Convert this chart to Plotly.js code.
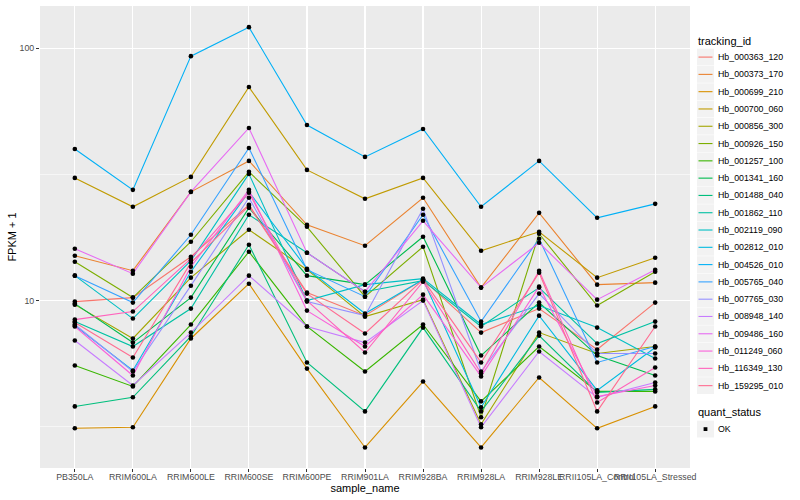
<!DOCTYPE html>
<html>
<head>
<meta charset="utf-8">
<script src="https://cdn.plot.ly/plotly-3.0.1.min.js"></script>
<style>html,body{margin:0;padding:0;background:#fff;}#chart{width:800px;height:500px;}</style>
</head>
<body>
<div id="chart"></div>
<script>
const samples = ["PB350LA","RRIM600LA","RRIM600LE","RRIM600SE","RRIM600PE","RRIM901LA","RRIM928BA","RRIM928LA","RRIM928LE","RRII105LA_Control","RRII105LA_Stressed"];
const trackingIds = ["Hb_000363_120","Hb_000373_170","Hb_000699_210","Hb_000700_060","Hb_000856_300","Hb_000926_150","Hb_001257_100","Hb_001341_160","Hb_001488_040","Hb_001862_110","Hb_002119_090","Hb_002812_010","Hb_004526_010","Hb_005765_040","Hb_007765_030","Hb_008948_140","Hb_009486_160","Hb_011249_060","Hb_116349_130","Hb_159295_010"];
const colors = ["#F8766D","#EA8331","#D89000","#C09B00","#A3A500","#7CAE00","#39B600","#00BB4E","#00BF7D","#00C1A3","#00BFC4","#00BAE0","#00B0F6","#35A2FF","#9590FF","#C77CFF","#E76BF3","#FA62DB","#FF62BC","#FF6C91"];
const quantStatus = ["OK"];

// FPKM + 1 values, one array per tracking_id (order = samples)
const hb000363_120 = [9.91, 10.28, 14.92, 23.95, 10.76, 8.72, 12.11, 7.47, 9.30, 6.40, 9.82];
const hb000373_170 = [15.06, 13.14, 26.97, 35.76, 19.97, 16.50, 25.54, 11.26, 22.27, 11.57, 11.78];
const hb000699_210 = [3.12, 3.15, 7.08, 11.67, 5.38, 2.62, 4.78, 2.62, 4.96, 3.12, 3.81];
const hb000700_060 = [30.63, 23.53, 30.91, 70.13, 32.95, 25.31, 30.63, 15.76, 18.74, 12.33, 14.79];
const hb000856_300 = [9.64, 7.08, 12.33, 19.08, 13.26, 8.64, 10.09, 3.24, 7.47, 6.17, 6.58];
const hb000926_150 = [14.26, 10.28, 17.11, 32.36, 19.61, 10.37, 16.35, 3.45, 18.40, 9.56, 13.02];
const hb001257_100 = [5.53, 4.57, 8.04, 15.62, 7.90, 5.24, 8.04, 3.99, 6.58, 4.37, 4.37];
const hb001341_160 = [9.73, 6.82, 10.28, 23.31, 12.56, 11.57, 17.91, 6.06, 9.82, 6.06, 5.05];
const hb001488_040 = [3.81, 4.14, 7.21, 16.65, 5.69, 3.64, 7.82, 3.64, 7.27, 4.33, 4.45];
const hb001862_110 = [8.26, 6.58, 9.30, 21.88, 15.48, 10.85, 12.00, 7.90, 11.26, 6.76, 8.26];
const hb002119_090 = [12.56, 8.49, 14.39, 31.77, 10.00, 11.57, 12.22, 8.04, 9.56, 7.82, 5.90];
const hb002812_010 = [7.96, 5.29, 13.02, 26.97, 13.38, 8.89, 12.11, 3.78, 8.72, 4.41, 6.52];
const hb004526_010 = [39.89, 27.46, 92.98, 121.1, 49.62, 37.09, 47.84, 23.53, 35.76, 21.29, 24.17];
const hb005765_040 = [12.56, 9.82, 18.23, 40.25, 13.26, 10.37, 21.88, 8.26, 17.58, 5.69, 6.58];
const hb007765_030 = [8.04, 5.24, 11.46, 25.54, 9.91, 8.72, 23.10, 5.24, 10.66, 6.17, 6.17];
const hb008948_140 = [6.95, 4.61, 7.47, 12.56, 7.90, 6.82, 10.00, 3.15, 6.29, 4.14, 4.74];
const hb009486_160 = [16.05, 12.79, 26.97, 48.28, 15.48, 10.85, 20.71, 11.26, 16.95, 10.09, 13.26];
const hb011249_060 = [7.90, 5.05, 13.62, 27.46, 9.13, 6.58, 10.56, 5.01, 11.36, 4.17, 4.61];
const hb116349_130 = [8.41, 9.05, 14.66, 26.73, 10.00, 6.23, 11.89, 5.15, 13.14, 3.95, 5.43];
const hb159295_010 = [8.19, 5.95, 14.13, 23.74, 10.66, 7.41, 12.11, 5.69, 12.90, 3.64, 7.90];

const series = [hb000363_120, hb000373_170, hb000699_210, hb000700_060, hb000856_300, hb000926_150, hb001257_100, hb001341_160, hb001488_040, hb001862_110, hb002119_090, hb002812_010, hb004526_010, hb005765_040, hb007765_030, hb008948_140, hb009486_160, hb011249_060, hb116349_130, hb159295_010];

const yTickVals = [10, 100];
const yMinorVals = [3.1623, 31.623];

const font = "Liberation Sans, Arial, sans-serif";
const W = 800, H = 500;
const M = {l: 40, r: 110, t: 5.5, b: 31.5};
const PW = W - M.l - M.r, PH = H - M.t - M.b;
const px2x = px => (px - M.l) / PW;
const py2y = py => (H - M.b - py) / PH;

const traces = [];
series.forEach((vals, i) => {
  traces.push({
    type: "scatter", mode: "lines", x: samples, y: vals,
    name: trackingIds[i], showlegend: false,
    line: {color: colors[i], width: 1.1},
    hoverinfo: "skip"
  });
});
series.forEach((vals, i) => {
  traces.push({
    type: "scatter", mode: "markers", x: samples, y: vals,
    showlegend: false,
    marker: {color: "#000", size: 4.6, symbol: "circle"},
    hoverinfo: "skip"
  });
});

// Hand-built ggplot-style legend (keys + real text labels)
const shapes = [];
const annotations = [];
const keyL = 697, keyR = 714, step = 17.33, firstY = 56.7;
annotations.push({xref: "paper", yref: "paper", x: px2x(696), y: py2y(40.5), xanchor: "left", yanchor: "middle",
  text: "tracking_id", showarrow: false, font: {family: font, size: 11, color: "#000"}});
trackingIds.forEach((id, i) => {
  const cy = firstY + i * step;
  shapes.push({type: "rect", xref: "paper", yref: "paper", x0: px2x(keyL), x1: px2x(keyR), y0: py2y(cy - 8.4), y1: py2y(cy + 8.4),
    fillcolor: "#F2F2F2", line: {width: 0}, layer: "above"});
  shapes.push({type: "line", xref: "paper", yref: "paper", x0: px2x(keyL + 1.5), x1: px2x(keyR - 1.5), y0: py2y(cy), y1: py2y(cy),
    line: {color: colors[i], width: 1.1}, layer: "above"});
  annotations.push({xref: "paper", yref: "paper", x: px2x(716.5), y: py2y(cy), xanchor: "left", yanchor: "middle",
    text: id, showarrow: false, font: {family: font, size: 8.8, color: "#000"}});
});
annotations.push({xref: "paper", yref: "paper", x: px2x(696), y: py2y(412.5), xanchor: "left", yanchor: "middle",
  text: "quant_status", showarrow: false, font: {family: font, size: 11, color: "#000"}});
quantStatus.forEach((q, i) => {
  const cy = 429.5 + i * step;
  shapes.push({type: "rect", xref: "paper", yref: "paper", x0: px2x(keyL), x1: px2x(keyR), y0: py2y(cy - 8.4), y1: py2y(cy + 8.4),
    fillcolor: "#F2F2F2", line: {width: 0}, layer: "above"});
  shapes.push({type: "rect", xref: "paper", yref: "paper", x0: px2x(703.6), x1: px2x(707.4), y0: py2y(cy - 1.9), y1: py2y(cy + 1.9),
    fillcolor: "#000", line: {width: 0}, layer: "above"});
  annotations.push({xref: "paper", yref: "paper", x: px2x(716.5), y: py2y(cy), xanchor: "left", yanchor: "middle",
    text: q, showarrow: false, font: {family: font, size: 8.8, color: "#000"}});
});

const layout = {
  width: W, height: H,
  paper_bgcolor: "#FFFFFF", plot_bgcolor: "#EBEBEB",
  margin: M,
  font: {family: font, size: 9, color: "#000"},
  showlegend: false,
  xaxis: {
    type: "category", range: [-0.6, 10.6], categoryorder: "array", categoryarray: samples,
    showgrid: true, gridcolor: "#FFFFFF", gridwidth: 1.1,
    zeroline: false, showline: false,
    ticks: "outside", ticklen: 3, tickcolor: "#333333", tickwidth: 1,
    ticklabelstandoff: -3,
    tickfont: {family: font, size: 8.8, color: "#4D4D4D"}, tickangle: 0,
    title: {text: "sample_name", font: {family: font, size: 11, color: "#000"}, standoff: 0}
  },
  yaxis: {
    type: "log", range: [0.337, 2.167],
    tickvals: yTickVals, ticktext: yTickVals.map(String),
    showgrid: true, gridcolor: "#FFFFFF", gridwidth: 1.1,
    minor: {tickvals: yMinorVals, showgrid: true, gridcolor: "#FFFFFF", gridwidth: 0.55, ticks: ""},
    zeroline: false, showline: false,
    ticks: "outside", ticklen: 3, tickcolor: "#333333", tickwidth: 1,
    tickfont: {family: font, size: 8.8, color: "#4D4D4D"},
    title: {text: "FPKM + 1", font: {family: font, size: 11, color: "#000"}, standoff: 0}
  },
  shapes: shapes,
  annotations: annotations
};

Plotly.newPlot("chart", traces, layout, {displayModeBar: false, staticPlot: true});
</script>
</body>
</html>
